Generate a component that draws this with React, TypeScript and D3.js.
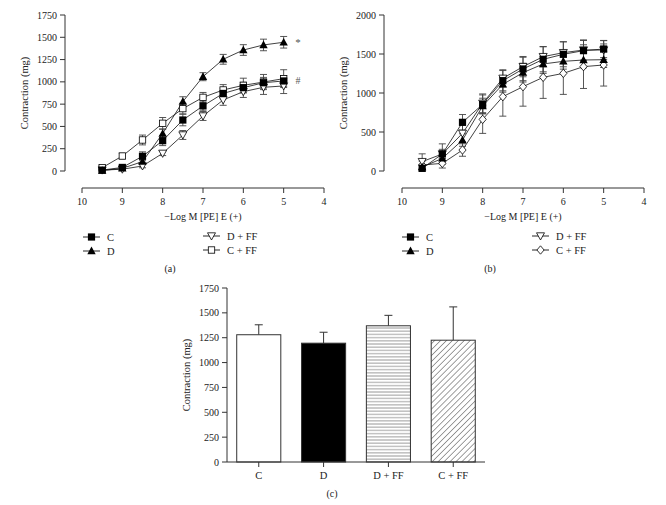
import React from "react";
import * as d3 from "d3";

const xs = [9.5, 9, 8.5, 8, 7.5, 7, 6.5, 6, 5.5, 5];
const xTicks = [10, 9, 8, 7, 6, 5, 4];

// Panel (a)
const aC = [10, 40, 165, 340, 572, 730, 870, 935, 990, 1010];
const aCerr = [20, 20, 50, 55, 65, 55, 60, 60, 60, 60];
const aD = [5, 30, 105, 420, 778, 1058, 1253, 1357, 1414, 1444];
const aDerr = [10, 20, 30, 50, 55, 45, 55, 60, 65, 65];
const aDFF = [10, 20, 56, 198, 404, 617, 797, 890, 939, 954];
const aDFFerr = [10, 15, 20, 25, 50, 50, 60, 65, 80, 85];
const aCFF = [37, 168, 348, 535, 700, 826, 909, 961, 998, 1036];
const aCFFerr = [20, 30, 55, 65, 60, 55, 60, 80, 85, 100];
const aYTicks = [0, 250, 500, 750, 1000, 1250, 1500, 1750];

// Panel (b)
const bC = [34, 218, 624, 855, 1158, 1308, 1432, 1496, 1543, 1564];
const bCerr = [40, 60, 100, 120, 130, 150, 160, 160, 130, 110];
const bD = [50, 162, 397, 833, 1111, 1261, 1372, 1406, 1423, 1427];
const bDerr = [30, 50, 80, 100, 100, 120, 120, 100, 100, 100];
const bDFF = [120, 218, 483, 868, 1188, 1338, 1466, 1517, 1551, 1551];
const bDFFerr = [100, 130, 110, 120, 110, 130, 130, 140, 130, 120];
const bCFF = [77, 98, 269, 662, 953, 1081, 1201, 1252, 1338, 1359];
const bCFFerr = [50, 60, 80, 180, 250, 250, 270, 270, 280, 270];
const bYTicks = [0, 500, 1000, 1500, 2000];

// Panel (c)
const cCats = ["C", "D", "D + FF", "C + FF"];
const cVals = [1280, 1195, 1370, 1225];
const cErr = [100, 110, 105, 335];
const cYTicks = [0, 250, 500, 750, 1000, 1250, 1500, 1750];

const FONT = "Liberation Serif, Times New Roman, serif";
const AX = "#333";

type Shape = "sq" | "tri" | "dtri" | "osq" | "dia";

function Marker({ shape, x, y }: { shape: Shape; x: number; y: number }) {
  const s = 3.6;
  if (shape === "sq")
    return <rect x={x - s} y={y - s} width={2 * s} height={2 * s} fill="#000" />;
  if (shape === "osq")
    return <rect x={x - s + 0.4} y={y - s + 0.4} width={2 * s - 0.8} height={2 * s - 0.8} fill="#fff" stroke="#000" strokeWidth={0.8} />;
  if (shape === "tri")
    return <path d={`M${x},${y - 4.4}L${x + 4.2},${y + 3.2}L${x - 4.2},${y + 3.2}Z`} fill="#000" />;
  if (shape === "dtri")
    return <path d={`M${x},${y + 4}L${x + 4},${y - 3.2}L${x - 4},${y - 3.2}Z`} fill="#fff" stroke="#000" strokeWidth={0.8} />;
  return <path d={`M${x},${y - 4.2}L${x + 3.6},${y}L${x},${y + 4.2}L${x - 3.6},${y}Z`} fill="#fff" stroke="#000" strokeWidth={0.8} />;
}

type Series = { vals: number[]; err: number[]; shape: Shape };

function CurvePanel({
  x0, x1, yAxisX, yTop, yBot, yMax, yTicks, series, label, legend, children,
}: {
  x0: number; x1: number; yAxisX: number; yTop: number; yBot: number; yMax: number;
  yTicks: number[]; series: Series[]; label: string;
  legend: { name: string; shape: Shape; lx: number; ly: number }[];
  children?: React.ReactNode;
}) {
  const x = d3.scaleLinear().domain([10, 4]).range([x0, x1]);
  const y = d3.scaleLinear().domain([0, yMax]).range([yBot, yTop]);
  const line = d3.line<number>().x((_, i) => x(xs[i])).y((v) => y(v));
  const xAxisY = 188;
  return (
    <g fontFamily={FONT} fill="#222">
      {/* y axis */}
      <line x1={yAxisX} x2={yAxisX} y1={y(0)} y2={y(yMax)} stroke={AX} strokeWidth={1} />
      {yTicks.map((t) => (
        <g key={t}>
          <line x1={yAxisX - 5} x2={yAxisX} y1={y(t)} y2={y(t)} stroke={AX} />
          <text x={yAxisX - 8} y={y(t)} dy="0.35em" textAnchor="end" fontSize={10}>{t}</text>
        </g>
      ))}
      <text transform={`translate(${yAxisX - 37},${(y(0) + y(yMax)) / 2}) rotate(-90)`} textAnchor="middle" fontSize={10.5}>Contraction (mg)</text>
      {/* x axis */}
      <line x1={x(10)} x2={x(4)} y1={xAxisY} y2={xAxisY} stroke={AX} />
      {xTicks.map((t) => (
        <g key={t}>
          <line x1={x(t)} x2={x(t)} y1={xAxisY} y2={xAxisY + 5} stroke={AX} />
          <text x={x(t)} y={xAxisY + 17} textAnchor="middle" fontSize={10}>{t}</text>
        </g>
      ))}
      <text x={(x(10) + x(4)) / 2} y={xAxisY + 32} textAnchor="middle" fontSize={10}>−Log M [PE] E (+)</text>
      {/* lines */}
      {series.map((s, k) => (
        <path key={"l" + k} d={line(s.vals) || ""} fill="none" stroke="#111" strokeWidth={0.8} />
      ))}
      {/* error bars */}
      {series.map((s, k) =>
        s.vals.map((v, i) => {
          const cx = x(xs[i]);
          const yh = y(v + s.err[i]);
          const yl = y(Math.max(0, v - s.err[i]));
          return (
            <g key={`e${k}-${i}`} stroke="#444" strokeWidth={0.9}>
              <line x1={cx} x2={cx} y1={yh} y2={yl} />
              <line x1={cx - 3.5} x2={cx + 3.5} y1={yh} y2={yh} />
              <line x1={cx - 3.5} x2={cx + 3.5} y1={yl} y2={yl} />
            </g>
          );
        })
      )}
      {/* markers */}
      {series.map((s, k) =>
        s.vals.map((v, i) => <Marker key={`m${k}-${i}`} shape={s.shape} x={x(xs[i])} y={y(v)} />)
      )}
      {/* legend */}
      {legend.map((l) => (
        <g key={l.name}>
          <line x1={l.lx} x2={l.lx + 17} y1={l.ly} y2={l.ly} stroke="#111" strokeWidth={0.9} />
          <Marker shape={l.shape} x={l.lx + 8.5} y={l.ly} />
          <text x={l.lx + 24} y={l.ly} dy="0.35em" fontSize={10.5}>{l.name}</text>
        </g>
      ))}
      <text x={(x(10) + x(4)) / 2 - 33} y={272} textAnchor="middle" fontSize={10}>{label}</text>
      {children}
    </g>
  );
}

function BarPanel() {
  const x = d3.scaleBand<string>().domain(cCats).range([227, 485]).paddingInner(0.32).paddingOuter(0.15);
  const y = d3.scaleLinear().domain([0, 1750]).range([462, 288]);
  const fills = ["#fff", "#000", "url(#hlines)", "url(#diag)"];
  return (
    <g fontFamily={FONT} fill="#222">
      <defs>
        <pattern id="hlines" patternUnits="userSpaceOnUse" width={6} height={3.2}>
          <rect width={6} height={3.2} fill="#fff" />
          <line x1={0} x2={6} y1={1.6} y2={1.6} stroke="#777" strokeWidth={0.8} />
        </pattern>
        <pattern id="diag" patternUnits="userSpaceOnUse" width={4.2} height={4.2} patternTransform="rotate(45)">
          <rect width={4.2} height={4.2} fill="#fff" />
          <line x1={2.1} x2={2.1} y1={0} y2={4.2} stroke="#777" strokeWidth={0.7} />
        </pattern>
      </defs>
      {cCats.map((c, i) => {
        const bx = x(c) as number;
        const cx = bx + x.bandwidth() / 2;
        return (
          <g key={c}>
            <line x1={cx} x2={cx} y1={y(cVals[i])} y2={y(cVals[i] + cErr[i])} stroke="#333" />
            <line x1={cx - 4} x2={cx + 4} y1={y(cVals[i] + cErr[i])} y2={y(cVals[i] + cErr[i])} stroke="#333" />
            <rect x={bx} y={y(cVals[i])} width={x.bandwidth()} height={y(0) - y(cVals[i])} fill={fills[i]} stroke="#333" strokeWidth={1} />
          </g>
        );
      })}
      <line x1={227} x2={227} y1={y(0)} y2={y(1750)} stroke={AX} />
      {cYTicks.map((t) => (
        <g key={t}>
          <line x1={222} x2={227} y1={y(t)} y2={y(t)} stroke={AX} />
          <text x={219} y={y(t)} dy="0.35em" textAnchor="end" fontSize={10}>{t}</text>
        </g>
      ))}
      <text transform={`translate(190,${(y(0) + y(1750)) / 2}) rotate(-90)`} textAnchor="middle" fontSize={10.5}>Contraction (mg)</text>
      <line x1={227} x2={485} y1={y(0)} y2={y(0)} stroke={AX} />
      {cCats.map((c) => {
        const cx = (x(c) as number) + x.bandwidth() / 2;
        return (
          <g key={"t" + c}>
            <line x1={cx} x2={cx} y1={y(0)} y2={y(0) + 5} stroke={AX} />
            <text x={cx} y={479} textAnchor="middle" fontSize={10.5}>{c}</text>
          </g>
        );
      })}
      <text x={332} y={497} textAnchor="middle" fontSize={10}>(c)</text>
    </g>
  );
}

export default function App() {
  const seriesA: Series[] = [
    { vals: aDFF, err: aDFFerr, shape: "dtri" },
    { vals: aCFF, err: aCFFerr, shape: "osq" },
    { vals: aC, err: aCerr, shape: "sq" },
    { vals: aD, err: aDerr, shape: "tri" },
  ];
  const seriesB: Series[] = [
    { vals: bCFF, err: bCFFerr, shape: "dia" },
    { vals: bDFF, err: bDFFerr, shape: "dtri" },
    { vals: bD, err: bDerr, shape: "tri" },
    { vals: bC, err: bCerr, shape: "sq" },
  ];
  return (
    <svg width={666} height={505} style={{ position: "absolute", left: 0, top: 0, background: "#fff" }}>
      <rect width={666} height={505} fill="#fff" />
      <CurvePanel
        x0={82} x1={324} yAxisX={65} yTop={15} yBot={171} yMax={1750}
        yTicks={aYTicks} series={seriesA} label="(a)"
        legend={[
          { name: "C", shape: "sq", lx: 83, ly: 237 },
          { name: "D", shape: "tri", lx: 83, ly: 251 },
          { name: "D + FF", shape: "dtri", lx: 203, ly: 236 },
          { name: "C + FF", shape: "osq", lx: 203, ly: 250 },
        ]}
      >
        <text x={298} y={42} dy="0.35em" textAnchor="middle" fontSize={11} fill="#555">*</text>
        <text x={298} y={80} dy="0.35em" textAnchor="middle" fontSize={10} fill="#555">#</text>
      </CurvePanel>
      <CurvePanel
        x0={402} x1={644} yAxisX={384} yTop={15} yBot={171} yMax={2000}
        yTicks={bYTicks} series={seriesB} label="(b)"
        legend={[
          { name: "C", shape: "sq", lx: 402, ly: 237 },
          { name: "D", shape: "tri", lx: 402, ly: 251 },
          { name: "D + FF", shape: "dtri", lx: 532, ly: 236 },
          { name: "C + FF", shape: "dia", lx: 532, ly: 250 },
        ]}
      />
      <BarPanel />
    </svg>
  );
}
